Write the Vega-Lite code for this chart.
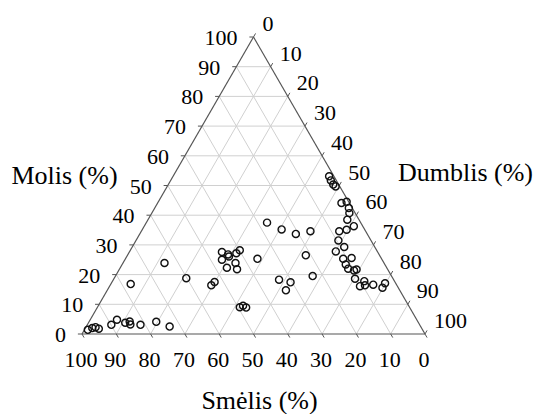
{
  "$schema": "https://vega.github.io/schema/vega-lite/v6.json",
  "width": 343,
  "height": 297,
  "autosize": {"type": "none"},
  "padding": {"left": 82, "top": 37, "right": 108, "bottom": 80},
  "background": "white",
  "config": {
    "view": {"stroke": null},
    "font": "Liberation Serif",
    "text": {"font": "Liberation Serif", "color": "#000000"}
  },
  "datasets": {
    "scale": [
      {"kind": "clay", "v": 0}, {"kind": "clay", "v": 10}, {"kind": "clay", "v": 20}, {"kind": "clay", "v": 30},
      {"kind": "clay", "v": 40}, {"kind": "clay", "v": 50}, {"kind": "clay", "v": 60}, {"kind": "clay", "v": 70},
      {"kind": "clay", "v": 80}, {"kind": "clay", "v": 90}, {"kind": "clay", "v": 100},
      {"kind": "silt", "v": 0}, {"kind": "silt", "v": 10}, {"kind": "silt", "v": 20}, {"kind": "silt", "v": 30},
      {"kind": "silt", "v": 40}, {"kind": "silt", "v": 50}, {"kind": "silt", "v": 60}, {"kind": "silt", "v": 70},
      {"kind": "silt", "v": 80}, {"kind": "silt", "v": 90}, {"kind": "silt", "v": 100},
      {"kind": "sand", "v": 0}, {"kind": "sand", "v": 10}, {"kind": "sand", "v": 20}, {"kind": "sand", "v": 30},
      {"kind": "sand", "v": 40}, {"kind": "sand", "v": 50}, {"kind": "sand", "v": 60}, {"kind": "sand", "v": 70},
      {"kind": "sand", "v": 80}, {"kind": "sand", "v": 90}, {"kind": "sand", "v": 100}
    ],
    "soil": [
      {"sand": 97.6, "silt": 1.0, "clay": 1.4},
      {"sand": 96.0, "silt": 2.0, "clay": 2.0},
      {"sand": 94.9, "silt": 2.8, "clay": 2.3},
      {"sand": 94.2, "silt": 4.0, "clay": 1.8},
      {"sand": 89.9, "silt": 7.0, "clay": 3.1},
      {"sand": 87.4, "silt": 7.8, "clay": 4.8},
      {"sand": 85.5, "silt": 10.7, "clay": 3.8},
      {"sand": 84.0, "silt": 11.8, "clay": 4.2},
      {"sand": 84.3, "silt": 12.5, "clay": 3.2},
      {"sand": 81.4, "silt": 15.5, "clay": 3.1},
      {"sand": 76.3, "silt": 19.6, "clay": 4.1},
      {"sand": 73.2, "silt": 24.3, "clay": 2.5},
      {"sand": 77.4, "silt": 5.8, "clay": 16.8},
      {"sand": 64.0, "silt": 12.1, "clay": 23.9},
      {"sand": 60.2, "silt": 21.0, "clay": 18.8},
      {"sand": 54.1, "silt": 29.5, "clay": 16.4},
      {"sand": 52.6, "silt": 29.9, "clay": 17.5},
      {"sand": 45.4, "silt": 27.0, "clay": 27.6},
      {"sand": 44.0, "silt": 29.2, "clay": 26.8},
      {"sand": 39.9, "silt": 31.9, "clay": 28.2},
      {"sand": 41.4, "silt": 31.4, "clay": 27.2},
      {"sand": 46.7, "silt": 28.3, "clay": 25.0},
      {"sand": 44.1, "silt": 29.8, "clay": 26.1},
      {"sand": 43.3, "silt": 32.8, "clay": 23.9},
      {"sand": 46.6, "silt": 31.1, "clay": 22.3},
      {"sand": 43.9, "silt": 34.3, "clay": 21.8},
      {"sand": 36.2, "silt": 38.5, "clay": 25.3},
      {"sand": 27.3, "silt": 35.2, "clay": 37.5},
      {"sand": 24.2, "silt": 40.6, "clay": 35.2},
      {"sand": 20.8, "silt": 45.5, "clay": 33.7},
      {"sand": 16.1, "silt": 49.3, "clay": 34.6},
      {"sand": 21.5, "silt": 52.0, "clay": 26.5},
      {"sand": 23.0, "silt": 57.5, "clay": 19.5},
      {"sand": 33.4, "silt": 48.3, "clay": 18.3},
      {"sand": 30.5, "silt": 52.1, "clay": 17.4},
      {"sand": 33.2, "silt": 52.1, "clay": 14.7},
      {"sand": 49.5, "silt": 41.5, "clay": 9.0},
      {"sand": 48.3, "silt": 42.2, "clay": 9.5},
      {"sand": 47.7, "silt": 43.4, "clay": 8.9},
      {"sand": 1.4, "silt": 45.5, "clay": 53.1},
      {"sand": 1.6, "silt": 46.7, "clay": 51.7},
      {"sand": 1.6, "silt": 48.1, "clay": 50.3},
      {"sand": 1.2, "silt": 49.1, "clay": 49.7},
      {"sand": 2.3, "silt": 53.6, "clay": 44.1},
      {"sand": 0.6, "silt": 54.9, "clay": 44.5},
      {"sand": 1.0, "silt": 56.6, "clay": 42.4},
      {"sand": 1.7, "silt": 57.6, "clay": 40.7},
      {"sand": 3.4, "silt": 58.1, "clay": 38.5},
      {"sand": 2.6, "silt": 61.1, "clay": 36.3},
      {"sand": 5.3, "silt": 59.6, "clay": 35.1},
      {"sand": 7.7, "silt": 57.7, "clay": 34.6},
      {"sand": 9.5, "silt": 59.0, "clay": 31.5},
      {"sand": 8.9, "silt": 61.8, "clay": 29.3},
      {"sand": 12.1, "silt": 60.1, "clay": 27.8},
      {"sand": 11.2, "silt": 63.5, "clay": 25.3},
      {"sand": 8.6, "silt": 65.8, "clay": 25.6},
      {"sand": 11.4, "silt": 65.2, "clay": 23.4},
      {"sand": 11.4, "silt": 66.6, "clay": 22.0},
      {"sand": 9.1, "silt": 69.2, "clay": 21.7},
      {"sand": 10.0, "silt": 68.6, "clay": 21.4},
      {"sand": 11.1, "silt": 70.3, "clay": 18.6},
      {"sand": 8.8, "silt": 73.4, "clay": 17.8},
      {"sand": 9.3, "silt": 74.3, "clay": 16.4},
      {"sand": 10.9, "silt": 73.0, "clay": 16.1},
      {"sand": 6.8, "silt": 76.6, "clay": 16.6},
      {"sand": 4.6, "silt": 79.8, "clay": 15.6},
      {"sand": 3.1, "silt": 79.8, "clay": 17.1}
    ]
  },
  "layer": [
    {
      "description": "Grid lines at every 10 % of each component",
      "data": {"name": "scale"},
      "transform": [
        {"filter": "datum.v > 0 && datum.v < 100"},
        {"calculate": "datum.kind == 'clay' ? 0 : datum.kind == 'silt' ? datum.v : 100 - datum.v", "as": "s1"},
        {"calculate": "datum.kind == 'clay' ? datum.v : 0", "as": "c1"},
        {"calculate": "datum.kind == 'clay' ? 100 - datum.v : datum.kind == 'silt' ? datum.v : 0", "as": "s2"},
        {"calculate": "datum.kind == 'clay' ? datum.v : 100 - datum.v", "as": "c2"},
        {"calculate": "datum.s1 + datum.c1 / 2", "as": "x1"},
        {"calculate": "datum.c1 * 0.8660254", "as": "y1"},
        {"calculate": "datum.s2 + datum.c2 / 2", "as": "x2"},
        {"calculate": "datum.c2 * 0.8660254", "as": "y2"}
      ],
      "mark": {"type": "rule", "color": "#d0d0d0", "strokeWidth": 1},
      "encoding": {
        "x": {"field": "x1", "type": "quantitative", "scale": {"domain": [0, 100], "nice": false, "zero": false},
              "axis": {"orient": "bottom", "title": "Smėlis (%)", "labels": false, "ticks": false, "domain": false, "grid": false,
                       "titleFont": "Liberation Serif", "titleFontSize": 26, "titleFontWeight": "normal", "titleColor": "#000000",
                       "titleAlign": "center", "titleBaseline": "middle", "titleX": 177, "titleY": 66}},
        "y": {"field": "y1", "type": "quantitative", "scale": {"domain": [0, 86.60254], "nice": false, "zero": false}, "axis": null},
        "x2": {"field": "x2"},
        "y2": {"field": "y2"}
      }
    },
    {
      "description": "Triangle frame: the zero line of each component",
      "data": {"name": "scale"},
      "transform": [
        {"filter": "datum.v == 0"},
        {"calculate": "datum.kind == 'clay' ? 0 : datum.kind == 'silt' ? datum.v : 100 - datum.v", "as": "s1"},
        {"calculate": "datum.kind == 'clay' ? datum.v : 0", "as": "c1"},
        {"calculate": "datum.kind == 'clay' ? 100 - datum.v : datum.kind == 'silt' ? datum.v : 0", "as": "s2"},
        {"calculate": "datum.kind == 'clay' ? datum.v : 100 - datum.v", "as": "c2"},
        {"calculate": "datum.s1 + datum.c1 / 2", "as": "x1"},
        {"calculate": "datum.c1 * 0.8660254", "as": "y1"},
        {"calculate": "datum.s2 + datum.c2 / 2", "as": "x2"},
        {"calculate": "datum.c2 * 0.8660254", "as": "y2"}
      ],
      "mark": {"type": "rule", "color": "#555555", "strokeWidth": 1.2},
      "encoding": {
        "x": {"field": "x1", "type": "quantitative", "axis": null},
        "y": {"field": "y1", "type": "quantitative",
              "axis": {"orient": "right", "title": "Dumblis (%)", "labels": false, "ticks": false, "domain": false, "grid": false,
                       "titleFont": "Liberation Serif", "titleFontSize": 26, "titleFontWeight": "normal", "titleColor": "#000000",
                       "titleAngle": 0, "titleAlign": "center", "titleBaseline": "middle", "titleX": 40, "titleY": 135}},
        "x2": {"field": "x2"},
        "y2": {"field": "y2"}
      }
    },
    {
      "description": "Short tick marks outside each edge",
      "data": {"name": "scale"},
      "transform": [
        {"calculate": "datum.kind == 'clay' ? 0 : datum.kind == 'silt' ? datum.v : 100 - datum.v", "as": "s1"},
        {"calculate": "datum.kind == 'clay' ? datum.v : datum.kind == 'silt' ? 100 - datum.v : 0", "as": "c1"},
        {"calculate": "datum.kind == 'clay' ? -1.2 : datum.kind == 'silt' ? datum.v : 101.2 - datum.v", "as": "s2"},
        {"calculate": "datum.kind == 'clay' ? datum.v : datum.kind == 'silt' ? 101.2 - datum.v : -1.2", "as": "c2"},
        {"calculate": "datum.s1 + datum.c1 / 2", "as": "x1"},
        {"calculate": "datum.c1 * 0.8660254", "as": "y1"},
        {"calculate": "datum.s2 + datum.c2 / 2", "as": "x2"},
        {"calculate": "datum.c2 * 0.8660254", "as": "y2"}
      ],
      "mark": {"type": "rule", "color": "#555555", "strokeWidth": 1},
      "encoding": {
        "x": {"field": "x1", "type": "quantitative", "axis": null},
        "y": {"field": "y1", "type": "quantitative", "axis": null},
        "x2": {"field": "x2"},
        "y2": {"field": "y2"}
      }
    },
    {
      "description": "Clay (Molis) labels on the left edge",
      "data": {"name": "scale"},
      "transform": [
        {"filter": "datum.kind == 'clay'"},
        {"calculate": "datum.v / 2", "as": "lx"},
        {"calculate": "datum.v * 0.8660254", "as": "ly"}
      ],
      "mark": {"type": "text", "align": "right", "baseline": "middle", "dx": -16, "dy": 1, "fontSize": 22},
      "encoding": {
        "x": {"field": "lx", "type": "quantitative", "axis": null},
        "y": {"field": "ly", "type": "quantitative", "axis": null},
        "text": {"field": "v", "type": "quantitative"}
      }
    },
    {
      "description": "Silt (Dumblis) labels on the right edge",
      "data": {"name": "scale"},
      "transform": [
        {"filter": "datum.kind == 'silt'"},
        {"calculate": "datum.v + (100 - datum.v) / 2", "as": "lx"},
        {"calculate": "(100 - datum.v) * 0.8660254", "as": "ly"}
      ],
      "mark": {"type": "text", "align": "left", "baseline": "middle", "dx": 9, "dy": -13, "fontSize": 22},
      "encoding": {
        "x": {"field": "lx", "type": "quantitative", "axis": null},
        "y": {"field": "ly", "type": "quantitative", "axis": null},
        "text": {"field": "v", "type": "quantitative"}
      }
    },
    {
      "description": "Sand (Smelis) labels under the base",
      "data": {"name": "scale"},
      "transform": [
        {"filter": "datum.kind == 'sand'"},
        {"calculate": "100 - datum.v", "as": "lx"},
        {"calculate": "0", "as": "ly"}
      ],
      "mark": {"type": "text", "align": "center", "baseline": "middle", "dx": -1, "dy": 26, "fontSize": 22},
      "encoding": {
        "x": {"field": "lx", "type": "quantitative", "axis": null},
        "y": {"field": "ly", "type": "quantitative", "axis": null},
        "text": {"field": "v", "type": "quantitative"}
      }
    },
    {
      "description": "Soil samples projected onto the triangle",
      "data": {"name": "soil"},
      "transform": [
        {"calculate": "datum.silt + datum.clay / 2", "as": "px"},
        {"calculate": "datum.clay * 0.8660254", "as": "py"}
      ],
      "mark": {"type": "point", "shape": "circle", "filled": false, "stroke": "#111111", "strokeWidth": 1.4, "size": 50, "opacity": 1},
      "encoding": {
        "x": {"field": "px", "type": "quantitative", "axis": null},
        "y": {"field": "py", "type": "quantitative",
              "axis": {"orient": "left", "title": "Molis (%)", "labels": false, "ticks": false, "domain": false, "grid": false,
                       "titleFont": "Liberation Serif", "titleFontSize": 26, "titleFontWeight": "normal", "titleColor": "#000000",
                       "titleAngle": 0, "titleAlign": "center", "titleBaseline": "middle", "titleX": -18, "titleY": 138}}
      }
    }
  ],
  "resolve": {"axis": {"x": "independent", "y": "independent"}}
}
